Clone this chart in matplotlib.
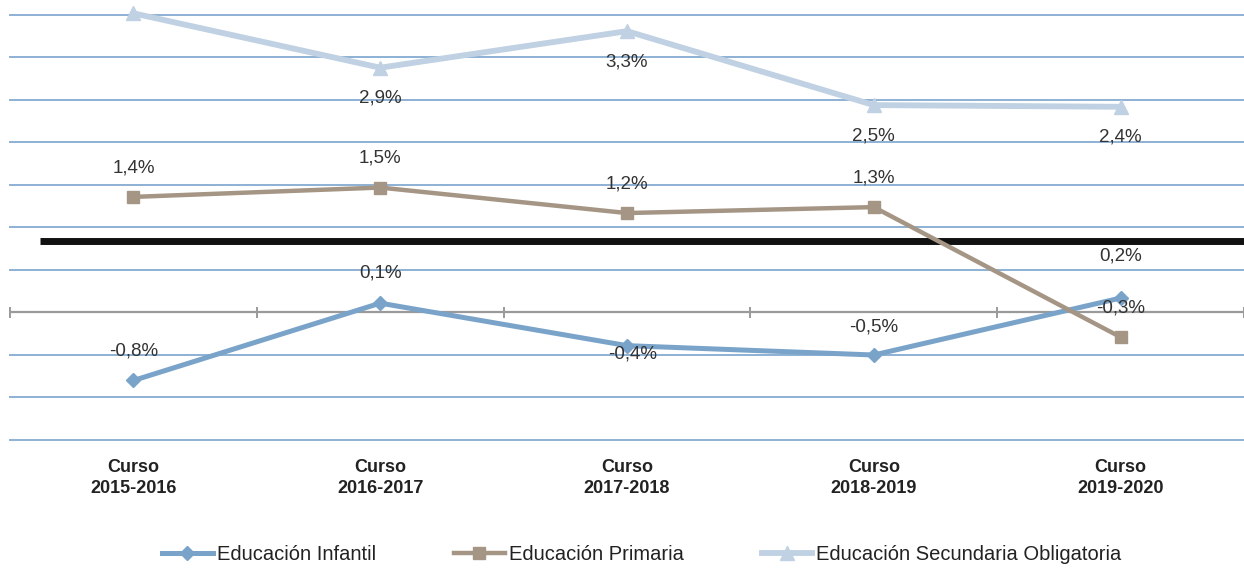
import numpy as np
import matplotlib
matplotlib.use("Agg")
import matplotlib.pyplot as plt

plt.rcParams['font.family'] = ['Liberation Sans', 'DejaVu Sans']

cursos = ['Curso\n2015-2016', 'Curso\n2016-2017', 'Curso\n2017-2018', 'Curso\n2018-2019', 'Curso\n2019-2020']

infantil = [-0.8, 0.11, -0.39, -0.5, 0.17]
infantil_lbl = ['-0,8%', '0,1%', '-0,4%', '-0,5%', '0,2%']
primaria = [1.36, 1.47, 1.17, 1.24, -0.29]
primaria_lbl = ['1,4%', '1,5%', '1,2%', '1,3%', '-0,3%']
secundaria = [3.52, 2.88, 3.31, 2.44, 2.42]
secundaria_lbl = ['3,5%', '2,9%', '3,3%', '2,5%', '2,4%']

ref_line = 0.84

c_inf = '#7aa3c9'
c_pri = '#a59585'
c_sec = '#bfd1e2'
c_grid = '#8db1d4'

fig = plt.figure(figsize=(12.44, 5.71), dpi=100)
ax = fig.add_axes([10/1244, 1-440/571, 1-10/1244, (440-15)/571])

x = np.arange(len(cursos))
ax.set_xlim(-0.5, 4.5)
ax.set_ylim(-1.5, 3.5)

# gridlines
for g in np.arange(-1.5, 3.51, 0.5):
    if abs(g) > 1e-9:
        ax.axhline(g, color=c_grid, lw=1.4, zorder=1, clip_on=False)
ax.axhline(0, color='#9a9a9a', lw=1.6, zorder=1)
ax.vlines(np.arange(-0.5, 4.6, 1.0), -0.07, 0.07, color='#9a9a9a', lw=1.4, zorder=1, clip_on=False)

# black reference line
ax.hlines(ref_line, -0.38, 4.5, color='#111111', lw=5, zorder=2, clip_on=False)

ax.plot(x, infantil, color=c_inf, lw=3.6, marker='D', ms=7, label='Educación Infantil', zorder=4, clip_on=False)
ax.plot(x, primaria, color=c_pri, lw=3.2, marker='s', ms=8, label='Educación Primaria', zorder=4, clip_on=False)
ax.plot(x, secundaria, color=c_sec, lw=4.2, marker='^', ms=10, label='Educación Secundaria Obligatoria', zorder=3, clip_on=False)

fs = 13.5
inf_off = [(0, 21), (0, 22), (4, -6), (0, 20), (0, 30)]
for i in range(len(x)):
    ax.annotate(infantil_lbl[i], (x[i], infantil[i]), xytext=inf_off[i], textcoords='offset points',
                ha='center', va='center', fontsize=fs, color='#333333', zorder=5)
    ax.annotate(primaria_lbl[i], (x[i], primaria[i]), xytext=(0, 21), textcoords='offset points',
                ha='center', va='center', fontsize=fs, color='#333333', zorder=5)
    ax.annotate(secundaria_lbl[i], (x[i], secundaria[i]), xytext=(0, -22), textcoords='offset points',
                ha='center', va='center', fontsize=fs, color='#333333', zorder=5)

ax.set_xticks(x)
ax.set_xticklabels(cursos, fontsize=13, fontweight='bold', color='#222222', linespacing=1.3)
ax.tick_params(axis='x', length=0, pad=14)
ax.set_yticks([])
for s in ax.spines.values():
    s.set_visible(False)

fig.legend(loc='center', bbox_to_anchor=(0.516, 1-555/571), ncol=3, frameon=False,
           fontsize=14.5, handlelength=2.5, columnspacing=3.9, handletextpad=0.2,
           labelcolor='#222222')

fig.savefig('out.png', dpi=100)
